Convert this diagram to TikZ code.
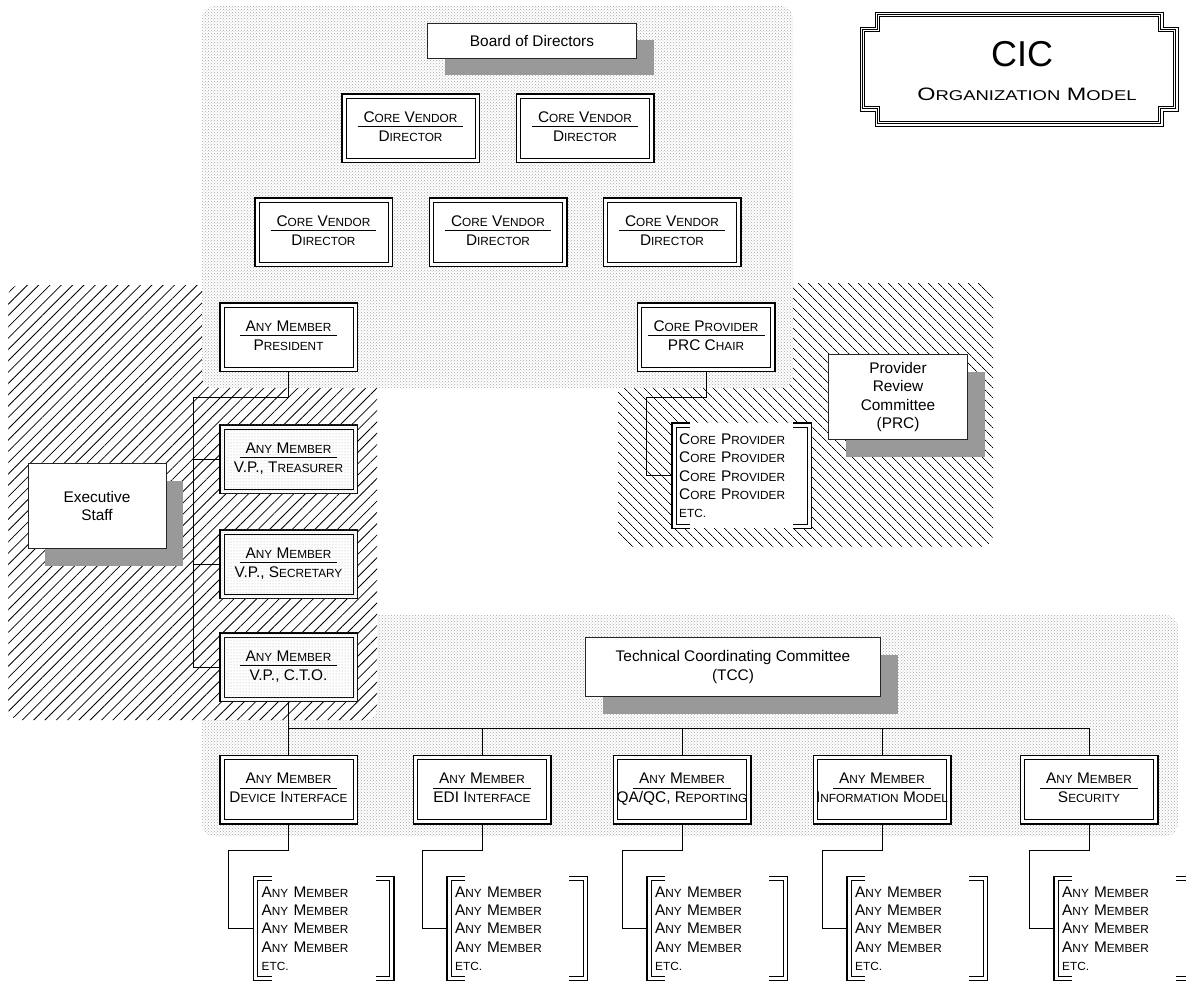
\documentclass[tikz,border=0pt]{standalone}
\usepackage{fontspec}
\setmainfont{Liberation Sans}
\usetikzlibrary{calc}
\usetikzlibrary{patterns,patterns.meta}
\usetikzlibrary{shadows}

\newlength\toplen
\newcommand\bigsz{\fontsize{15.4}{18.3}\selectfont}
\newcommand\smsz{\fontsize{11.8}{18.3}\selectfont}
\newcommand\tsm{\fontsize{14.2}{16}\selectfont}
% fake small caps: first letter full size, the rest smaller capitals
\def\swaux#1#2\relax{#1{\smsz\MakeUppercase{#2}}}
\newcommand\sw[1]{\swaux#1\relax}
% two lines with a rule under the first one
\newcommand\duo[2]{\settowidth\toplen{#1}\addtolength\toplen{12pt}%
  \begin{tabular}{@{}c@{}}\rlap{\rule[-4.9pt]{\toplen}{0.9pt}}\makebox[\toplen]{#1}\\[1pt]#2\end{tabular}}
% square brackets round a list
\newcommand\listframe[1]{%
  \draw[line width=1.4pt] ([xshift=18pt]#1.north west) -- (#1.north west) -- (#1.south west) -- ([xshift=18pt]#1.south west);
  \draw[line width=0.9pt] ([shift={(18pt,-4pt)}]#1.north west) -- ([shift={(4pt,-4pt)}]#1.north west) -- ([shift={(4pt,4pt)}]#1.south west) -- ([shift={(18pt,4pt)}]#1.south west);
  \draw[line width=1.4pt] ([xshift=-18pt]#1.north east) -- (#1.north east) -- (#1.south east) -- ([xshift=-18pt]#1.south east);
  \draw[line width=0.9pt] ([shift={(-18pt,-4pt)}]#1.north east) -- ([shift={(-4pt,-4pt)}]#1.north east) -- ([shift={(-4pt,4pt)}]#1.south east) -- ([shift={(-18pt,4pt)}]#1.south east);
}

\begin{document}
\begin{tikzpicture}[x=1pt, y=-1pt,
  dotzone/.style={fill=white, rounded corners=12pt, postaction={pattern=crosshatch dots, pattern color=black!35}},
  execzone/.style={fill=white, rounded corners=12pt, postaction={pattern={Lines[angle=45,distance=8pt,line width=0.8pt]}, pattern color=black}},
  prczone/.style={fill=white, rounded corners=12pt, postaction={pattern={Lines[angle=-45,distance=7.4pt,line width=0.8pt]}, pattern color=black}},
  dbox/.style={draw, line width=1.5pt, fill=white, font=\bigsz, minimum width=137.5pt, minimum height=68.5pt, inner sep=0pt,
    path picture={\draw[line width=0.8pt] ([shift={(4.3pt,4.3pt)}]path picture bounding box.south west) rectangle ([shift={(-4.3pt,-4.3pt)}]path picture bounding box.north east);}},
  vpbox/.style={dbox, postaction={pattern=dots, pattern color=black!30}},
  shbox/.style={draw=black!85, line width=0.8pt, fill=white, font=\bigsz, align=center, inner sep=0pt,
    drop shadow={shadow xshift=17pt, shadow yshift=-17pt, opacity=1, fill=black!40}},
  listbox/.style={fill=white, font=\bigsz, align=left, text width=124pt, inner xsep=8pt, inner ysep=0pt,
    minimum width=140pt, minimum height=104pt, anchor=north west},
  wire/.style={line width=0.9pt}]
\useasboundingbox (0,0) rectangle (1186,980);

% shaded and hatched areas
\path[dotzone] (202,615) rectangle (1178,836);
\path[execzone] (8,285) rectangle (377,720);
\path[prczone] (618,283) rectangle (993,547);
\path[dotzone] (202,6) rectangle (793,388);

% title
\foreach \d in {0,2.4,4.8}
  \draw[line width=0.9pt] (860+\d,27+\d) -- (875+\d,27+\d) -- (875+\d,12+\d) -- (1163-\d,12+\d) -- (1163-\d,27+\d) -- (1178-\d,27+\d)
    -- (1178-\d,111-\d) -- (1163-\d,111-\d) -- (1163-\d,126-\d) -- (875+\d,126-\d) -- (875+\d,111-\d) -- (860+\d,111-\d) -- cycle;
\node[font=\fontsize{36}{40}\selectfont, anchor=base] (cic) at (1022,66.7) {CIC};
\node[font=\fontsize{18}{20}\selectfont, anchor=base] (cicsub) at (1027,100) {\scalebox{1.3}[1]{O{\tsm RGANIZATION} M{\tsm ODEL}}};

% board
\node[shbox, minimum width=209pt, minimum height=35pt] (board) at (532,40.5) {Board of Directors};
\node[dbox] (cv1) at (410.5,128) {\duo{\sw{Core} \sw{Vendor}}{\sw{Director}}};
\node[dbox] (cv2) at (585,128) {\duo{\sw{Core} \sw{Vendor}}{\sw{Director}}};
\node[dbox] (cv3) at (323.5,232) {\duo{\sw{Core} \sw{Vendor}}{\sw{Director}}};
\node[dbox] (cv4) at (498,232) {\duo{\sw{Core} \sw{Vendor}}{\sw{Director}}};
\node[dbox] (cv5) at (672,232) {\duo{\sw{Core} \sw{Vendor}}{\sw{Director}}};
\node[dbox] (pres) at (288.5,337) {\duo{\sw{Any} \sw{Member}}{\sw{President}}};
\node[dbox] (chair) at (706,337) {\duo{\sw{Core} \sw{Provider}}{PRC \sw{Chair}}};

% executive staff
\node[shbox, minimum width=138pt, minimum height=85pt] (exec) at (97,506) {Executive\\Staff};
\node[vpbox] (treas) at (288.5,459) {\duo{\sw{Any} \sw{Member}}{V.P., \sw{Treasurer}}};
\node[vpbox] (secr) at (288.5,564) {\duo{\sw{Any} \sw{Member}}{V.P., \sw{Secretary}}};
\node[vpbox] (cto) at (288.5,667) {\duo{\sw{Any} \sw{Member}}{V.P., C.T.O.}};
\draw[wire] (pres.south) -- ++(0,25) -| ([xshift=-26pt]cto.west) -- (cto.west);
\draw[wire] ([xshift=-26pt]treas.west) -- (treas.west);
\draw[wire] ([xshift=-26pt]secr.west) -- (secr.west);

% provider review committee
\node[shbox, minimum width=139pt, minimum height=85pt] (prc) at (898,397) {Provider\\Review\\Committee\\(PRC)};
\node[listbox, minimum width=139pt, minimum height=105pt, text width=125pt, inner xsep=7pt] (prclist) at (672,423)
  {\sw{Core} \sw{Provider}\\\sw{Core} \sw{Provider}\\\sw{Core} \sw{Provider}\\\sw{Core} \sw{Provider}\\{\smsz ETC.}};
\listframe{prclist}
\draw[wire] (chair.south) -- ++(0,25) -| ([xshift=-26pt]prclist.west) -- (prclist.west);

% technical coordinating committee
\node[shbox, minimum width=295pt, minimum height=59pt] (tcc) at (733,667) {Technical Coordinating Committee\\(TCC)};
\node[dbox] (b1) at (288.5,789.5) {\duo{\sw{Any} \sw{Member}}{\sw{Device} \sw{Interface}}};
\node[dbox] (b2) at (482,789.5) {\duo{\sw{Any} \sw{Member}}{EDI \sw{Interface}}};
\node[dbox] (b3) at (682,789.5) {\duo{\sw{Any} \sw{Member}}{QA/QC, \sw{Reporting}}};
\node[dbox] (b4) at (882,789.5) {\duo{\sw{Any} \sw{Member}}{\sw{Information} \sw{Model}}};
\node[dbox] (b5) at (1089,789.5) {\duo{\sw{Any} \sw{Member}}{\sw{Security}}};
\draw[wire] (cto.south) -- ++(0,26) coordinate (tbus) -| (b5.north);
\foreach \i in {2,3,4}
  \draw[wire] (b\i.north) -- (b\i.north |- tbus);
\draw[wire] (tbus) -- (b1.north);

\foreach \i in {1,...,5} {
  \node[listbox] (l\i) at ($(b\i.south)+(-35,52)$)
    {\sw{Any} \sw{Member}\\\sw{Any} \sw{Member}\\\sw{Any} \sw{Member}\\\sw{Any} \sw{Member}\\{\smsz ETC.}};
  \listframe{l\i}
  \draw[wire] (b\i.south) -- ++(0,26) -| ([xshift=-25pt]l\i.west) -- (l\i.west);
}
\end{tikzpicture}
\end{document}
